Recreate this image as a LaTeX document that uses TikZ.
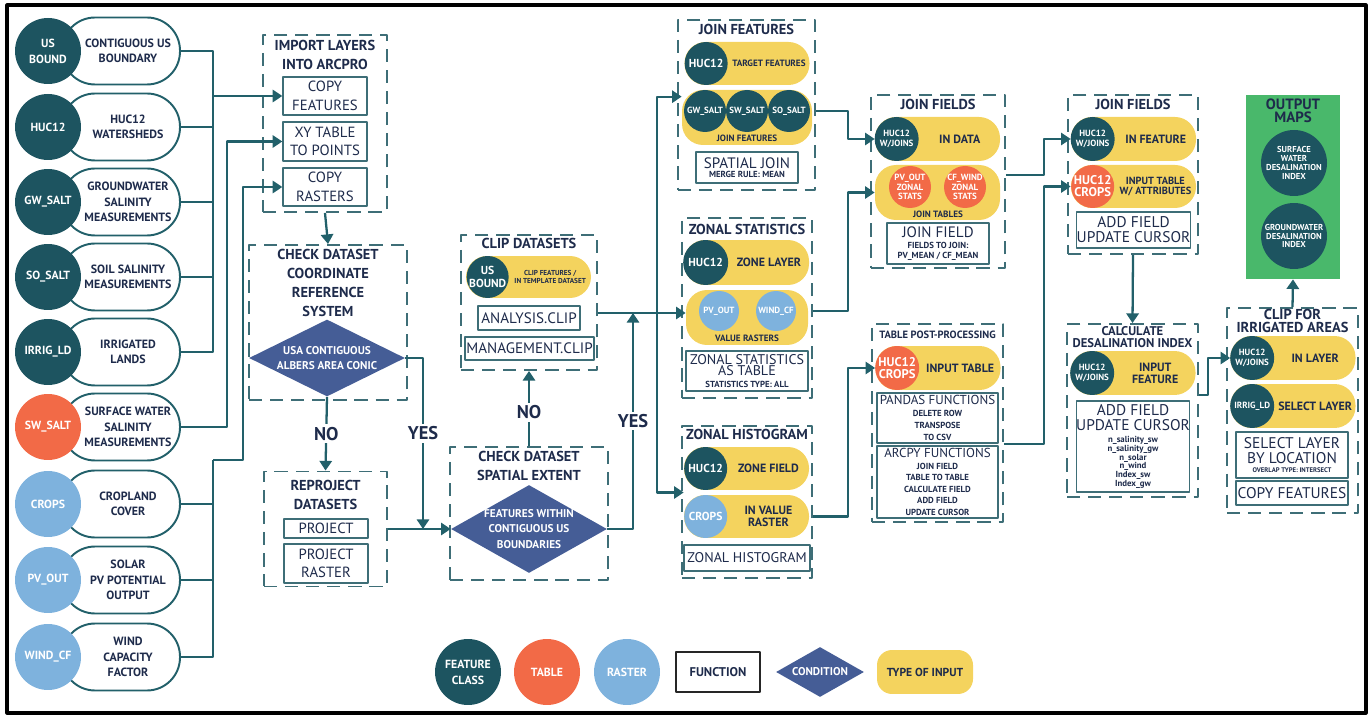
\documentclass[tikz,border=0pt]{standalone}
\usepackage{fontspec}
\setmainfont{PT Sans}
\usepackage{tikz}
\usetikzlibrary{shapes,positioning,calc,arrows.meta}

\definecolor{featcol}{HTML}{1D5460}
\definecolor{tablecol}{HTML}{F26A47}
\definecolor{rastercol}{HTML}{7EB2DD}
\definecolor{inputcol}{HTML}{F4D35E}
\definecolor{condcol}{HTML}{455D96}
\definecolor{outcol}{HTML}{49B86B}
\definecolor{inkcol}{HTML}{1E2B4B}
\definecolor{linecol}{HTML}{22606A}
\definecolor{boxcol}{HTML}{3E6E77}

\newcommand{\subtxt}{\bfseries\fontsize{5}{5}\selectfont}

\newcommand{\source}[5]{
	\node[srcpill] (#1_p) at (121,#2) {};
	\node[bigcirc, fill=#3, label={[ctbig]center:#4}] (#1_c) at (48,#2) {};
	\node[srctext] (#1_t) at (128,#2) {#5};
}

\newcommand{\inpill}[9]{
	\node[ypill, minimum height=#4] (#1) at (#2,#3) {};
	\node[pcirc, fill=#5, minimum size=#4, label={[#6]center:#7}] (#1_c) at ($(#1.west)+(22,0)$) {};
	\node[#8] (#1_t) at ($(#1_c.east)!0.5!(#1.east)$) {#9};
}

\begin{document}
\begin{tikzpicture}[x=0.02cm, y=-0.02cm, >={Triangle[length=5.5pt,width=7pt]}, join=round]
		\tikzstyle{srcpill}=[draw=linecol, line width=1.1pt, fill=white, rounded corners=0.66cm, minimum width=2.36cm, minimum height=1.34cm, inner sep=0];
		\tikzstyle{bigcirc}=[circle, minimum size=1.32cm, inner sep=0];
		\tikzstyle{pcirc}=[circle, inner sep=0];
		\tikzstyle{ctbig}=[text=white, align=center, inner sep=0, font=\bfseries\fontsize{6.7}{9}\selectfont];
		\tikzstyle{ctmid}=[ctbig, font=\bfseries\fontsize{6.6}{7.2}\selectfont];
		\tikzstyle{ctsm}=[ctbig, font=\bfseries\fontsize{5.1}{5.3}\selectfont];
		\tikzstyle{ctcrop}=[ctbig, font=\bfseries\fontsize{7.2}{6.8}\selectfont];
		\tikzstyle{ctout}=[ctbig, font=\bfseries\fontsize{4.9}{5}\selectfont];
		\tikzstyle{srctext}=[text=inkcol, align=center, inner sep=0, font=\bfseries\fontsize{6.8}{8.8}\selectfont];
		\tikzstyle{ypill}=[fill=inputcol, rounded corners=0.42cm, minimum width=2.5cm, inner sep=0];
		\tikzstyle{plbig}=[text=inkcol, align=center, inner sep=0, font=\bfseries\fontsize{6.8}{6.8}\selectfont];
		\tikzstyle{plmid}=[plbig, font=\bfseries\fontsize{5.9}{5.4}\selectfont];
		\tikzstyle{plsm}=[plbig, font=\bfseries\fontsize{5.2}{5.3}\selectfont];
		\tikzstyle{pltiny}=[plbig, font=\bfseries\fontsize{4.1}{4.9}\selectfont];
		\tikzstyle{grp}=[draw=boxcol, line width=1.1pt, dash pattern=on 7.5pt off 4.5pt, inner sep=0];
		\tikzstyle{head}=[text=inkcol, align=center, inner sep=0, font=\bfseries\fontsize{8.2}{10.8}\selectfont];
		\tikzstyle{fn}=[draw=boxcol, line width=0.8pt, fill=white, text=inkcol, align=center, inner sep=0, font=\fontsize{8.4}{10.6}\selectfont];
		\tikzstyle{cond}=[diamond, fill=condcol, inner sep=0];
		\tikzstyle{condtext}=[text=white, align=center, inner sep=0, font=\bfseries\fontsize{6.4}{8.9}\selectfont];
		\tikzstyle{wire}=[draw=linecol, line width=1.3pt];
		\tikzstyle{flow}=[wire, ->];
		\tikzstyle{answer}=[fill=white, text=inkcol, inner sep=1.5pt, font=\bfseries\fontsize{10.5}{12}\selectfont];
		
		\useasboundingbox (0,0) rectangle (1371,715);
		\draw[line width=1.8pt] (7,5) rectangle (1366,713);
		
		% input layers
		\source{usb}{51}{featcol}{US\\BOUND}{CONTIGUOUS US\\BOUNDARY}
		\source{huc}{127}{featcol}{HUC12}{HUC12\\WATERSHEDS}
		\source{gws}{202}{featcol}{GW\_SALT}{GROUNDWATER\\SALINITY\\MEASUREMENTS}
		\source{sos}{277}{featcol}{SO\_SALT}{SOIL SALINITY\\MEASUREMENTS}
		\source{irl}{352}{featcol}{IRRIG\_LD}{IRRIGATED\\LANDS}
		\source{sws}{427}{tablecol}{SW\_SALT}{SURFACE WATER\\SALINITY\\MEASUREMENTS}
		\source{crp}{504}{rastercol}{CROPS}{CROPLAND\\COVER}
		\source{pvo}{580}{rastercol}{PV\_OUT}{SOLAR\\PV POTENTIAL\\OUTPUT}
		\source{wcf}{657}{rastercol}{WIND\_CF}{WIND\\CAPACITY\\FACTOR}
		
		% import
		\node[grp, minimum width=2.48cm, minimum height=3.54cm] (imp) at (325,123.5) {};
		\node[head] (imp_h) at (325,55) {IMPORT LAYERS\\INTO ARCPRO};
		\node[fn, minimum width=1.68cm, minimum height=0.76cm] (cpf) at (325,96) {COPY\\FEATURES};
		\node[fn, minimum width=1.68cm, minimum height=0.78cm] (xyt) at (325,141.5) {XY TABLE\\TO POINTS};
		\node[fn, minimum width=1.68cm, minimum height=0.76cm] (cpr) at (325,187) {COPY\\RASTERS};
		
		% coordinate system check
		\node[grp, minimum width=3.16cm, minimum height=3.10cm] (crs) at (328,322.5) {};
		\node[head] (crs_h) at (328,283) {CHECK DATASET\\COORDINATE\\REFERENCE\\SYSTEM};
		\node[cond, minimum width=3.12cm, minimum height=1.54cm, label={[condtext]center:USA CONTIGUOUS\\ALBERS AREA CONIC}] (crs_d) at (327,358) {};
		
		\node[grp, minimum width=2.46cm, minimum height=2.30cm] (rep) at (325.5,529) {};
		\node[head] (rep_h) at (325.5,495) {REPROJECT\\DATASETS};
		\node[fn, minimum width=1.68cm, minimum height=0.38cm] (prj) at (326,528.5) {PROJECT};
		\node[fn, minimum width=1.68cm, minimum height=0.78cm] (prr) at (326,563.5) {PROJECT\\RASTER};
		
		% spatial extent check
		\node[grp, minimum width=3.16cm, minimum height=2.66cm] (ext) at (529,513.5) {};
		\node[head] (ext_h) at (529,466) {CHECK DATASET\\SPATIAL EXTENT};
		\node[cond, minimum width=3.12cm, minimum height=1.76cm, label={[condtext]center:FEATURES WITHIN\\CONTIGUOUS US\\BOUNDARIES}] (ext_d) at (529,529) {};
		
		\node[grp, minimum width=2.72cm, minimum height=2.70cm] (clp) at (529,302.5) {};
		\node[head] (clp_h) at (529,243) {CLIP DATASETS};
		\inpill{clp_in}{528.5}{277}{0.84cm}{featcol}{ctmid}{US\\BOUND}{pltiny}{CLIP FEATURES /\\IN TEMPLATE DATASET}
		\node[fn, minimum width=2.04cm, minimum height=0.48cm, font=\fontsize{8.6}{10}\selectfont] (acl) at (529,318) {ANALYSIS.CLIP};
		\node[fn, minimum width=2.58cm, minimum height=0.46cm, font=\fontsize{8.6}{10}\selectfont] (mcl) at (529.5,348.5) {MANAGEMENT.CLIP};
		
		% join features
		\node[grp, minimum width=2.74cm, minimum height=3.40cm] (jft) at (746.5,105) {};
		\node[head] (jft_h) at (746.5,29) {JOIN FEATURES};
		\inpill{jft_tg}{747}{63.5}{0.86cm}{featcol}{ctmid}{HUC12}{plsm}{TARGET FEATURES}
		\node[ypill, minimum width=2.6cm, minimum height=1.1cm] (jft_jn) at (747,117.5) {};
		\node[pcirc, fill=featcol, minimum size=0.84cm, label={[ctsm]center:GW\_SALT}] (jft_c1) at (705,111) {};
		\node[pcirc, fill=featcol, minimum size=0.84cm, label={[ctsm]center:SW\_SALT}] (jft_c2) at (747,111) {};
		\node[pcirc, fill=featcol, minimum size=0.84cm, label={[ctsm]center:SO\_SALT}] (jft_c3) at (789,111) {};
		\node[plsm] (jft_t) at (747,138.5) {JOIN FEATURES};
		\node[fn, minimum width=2.04cm, minimum height=0.62cm, font=\fontsize{8.6}{5.2}\selectfont] (sjn) at (747,167.5) {SPATIAL JOIN\\\subtxt MERGE RULE: MEAN};
		
		% zonal statistics
		\node[grp, minimum width=2.60cm, minimum height=3.60cm] (zst) at (747,308) {};
		\node[head] (zst_h) at (747,229) {ZONAL STATISTICS};
		\inpill{zst_zn}{746.5}{262.5}{0.9cm}{featcol}{ctmid}{HUC12}{plbig}{ZONE LAYER}
		\node[ypill, minimum width=2.44cm, minimum height=1.1cm] (zst_vl) at (747,317.5) {};
		\node[pcirc, fill=rastercol, minimum size=0.8cm, label={[ctsm]center:PV\_OUT}] (zst_c1) at (719,311) {};
		\node[pcirc, fill=rastercol, minimum size=0.8cm, label={[ctsm]center:WIND\_CF}] (zst_c2) at (776,311) {};
		\node[plsm] (zst_t) at (747,338.5) {VALUE RASTERS};
		\node[fn, minimum width=2.44cm, minimum height=0.80cm, font=\fontsize{8}{6.6}\selectfont] (zsb) at (747,371) {ZONAL STATISTICS\\AS TABLE\\\subtxt STATISTICS TYPE: ALL};
		
		% zonal histogram
		\node[grp, minimum width=2.60cm, minimum height=3.04cm] (zhs) at (747,502) {};
		\node[head] (zhs_h) at (747,434) {ZONAL HISTOGRAM};
		\inpill{zhs_zn}{746.5}{468.5}{0.86cm}{featcol}{ctmid}{HUC12}{plbig}{ZONE FIELD}
		\inpill{zhs_vl}{746.5}{516.5}{0.86cm}{rastercol}{ctmid}{CROPS}{plbig}{IN VALUE\\RASTER}
		\node[fn, minimum width=2.52cm, minimum height=0.52cm, font=\fontsize{8}{10}\selectfont] (zhb) at (747,558) {ZONAL HISTOGRAM};
		
		% join fields
		\node[grp, minimum width=2.68cm, minimum height=3.46cm] (jf1) at (938,181.5) {};
		\node[head] (jf1_h) at (938,104) {JOIN FIELDS};
		\inpill{jf1_in}{937.5}{139}{0.88cm}{featcol}{ctsm}{HUC12\\W/JOINS}{plbig}{IN DATA}
		\node[ypill, minimum width=2.5cm, minimum height=1.1cm] (jf1_tb) at (937.5,192.5) {};
		\node[pcirc, fill=tablecol, minimum size=0.84cm, label={[ctsm]center:PV\_OUT\\ZONAL\\STATS}] (jf1_c1) at (910,187) {};
		\node[pcirc, fill=tablecol, minimum size=0.84cm, label={[ctsm]center:CF\_WIND\\ZONAL\\STATS}] (jf1_c2) at (965,187) {};
		\node[plsm] (jf1_t) at (938,214) {JOIN TABLES};
		\node[fn, minimum width=2.04cm, minimum height=0.82cm, font=\fontsize{8.6}{5.4}\selectfont] (jfd) at (938,243.5) {JOIN FIELD\\[1pt]\subtxt FIELDS TO JOIN:\\\subtxt PV\_MEAN / CF\_MEAN};
		
		\node[grp, minimum width=2.60cm, minimum height=3.18cm] (jf2) at (1133,174.5) {};
		\node[head] (jf2_h) at (1133,104) {JOIN FIELDS};
		\inpill{jf2_in}{1133.5}{139}{0.88cm}{featcol}{ctsm}{HUC12\\W/JOINS}{plbig}{IN FEATURE}
		\inpill{jf2_tb}{1133.5}{186.5}{0.86cm}{tablecol}{ctcrop}{HUC12\\CROPS}{plmid}{INPUT TABLE\\W/ ATTRIBUTES}
		\node[fn, minimum width=2.26cm, minimum height=0.72cm, font=\fontsize{8.8}{8.5}\selectfont] (auc) at (1133.5,230) {ADD FIELD\\UPDATE CURSOR};
		
		% post-processing
		\node[grp, minimum width=2.62cm, minimum height=3.96cm] (tpp) at (937.5,423) {};
		\node[head, font=\bfseries\fontsize{6}{6}\selectfont] (tpp_h) at (937.5,335) {TABLE POST-PROCESSING};
		\inpill{tpp_in}{938}{368}{0.88cm}{tablecol}{ctcrop}{HUC12\\CROPS}{plbig}{INPUT TABLE}
		\node[fn, minimum width=2.42cm, minimum height=1.0cm, font=\fontsize{7.4}{6.8}\selectfont] (pdf) at (937.5,418) {PANDAS FUNCTIONS\\\subtxt DELETE ROW\\\subtxt TRANSPOSE\\\subtxt TO CSV};
		\node[fn, minimum width=2.42cm, minimum height=1.44cm, font=\fontsize{7.4}{6.6}\selectfont] (apf) at (937.5,482) {ARCPY FUNCTIONS\\\subtxt JOIN FIELD\\\subtxt TABLE TO TABLE\\\subtxt CALCULATE FIELD\\\subtxt ADD FIELD\\\subtxt UPDATE CURSOR};
		
		% index
		\node[grp, minimum width=2.62cm, minimum height=3.46cm] (cal) at (1132.5,410.5) {};
		\node[head, font=\bfseries\fontsize{7.2}{6.8}\selectfont] (cal_h) at (1132.5,337) {CALCULATE\\DESALINATION INDEX};
		\inpill{cal_in}{1133}{373}{0.88cm}{featcol}{ctsm}{HUC12\\W/JOINS}{plbig}{INPUT\\FEATURE}
		\node[fn, minimum width=2.24cm, minimum height=1.82cm, font=\fontsize{8.8}{5}\selectfont] (cab) at (1133,446.5) {ADD FIELD\\[1.3pt]UPDATE CURSOR\\[1.8pt]\subtxt n\_salinity\_sw\\\subtxt n\_salinity\_gw\\\subtxt n\_solar\\\subtxt n\_wind\\\subtxt Index\_sw\\\subtxt Index\_gw};
		
		% irrigated clip
		\node[grp, minimum width=2.62cm, minimum height=4.10cm] (irr) at (1292.5,410.5) {};
		\node[head, font=\bfseries\fontsize{8.2}{7}\selectfont] (irr_h) at (1292.5,321) {CLIP FOR\\IRRIGATED AREAS};
		\inpill{irr_in}{1293}{358}{0.88cm}{featcol}{ctsm}{HUC12\\W/JOINS}{plbig}{IN LAYER}
		\inpill{irr_sl}{1293}{406}{0.88cm}{featcol}{ctsm}{IRRIG\_LD}{plbig}{SELECT LAYER}
		\node[fn, minimum width=2.24cm, minimum height=0.92cm, font=\fontsize{8.8}{8.3}\selectfont] (slb) at (1292,455) {SELECT LAYER\\BY LOCATION\\[-3pt]\bfseries\fontsize{3.8}{4}\selectfont OVERLAP TYPE: INTERSECT};
		\node[fn, minimum width=2.24cm, minimum height=0.48cm, font=\fontsize{8.8}{10}\selectfont] (cpf2) at (1292,493) {COPY FEATURES};
		
		% outputs
		\node[fill=outcol, minimum width=1.88cm, minimum height=3.68cm, inner sep=0] (out) at (1293,187) {};
		\node[head, font=\bfseries\fontsize{8.5}{7.6}\selectfont] (out_h) at (1293,111) {OUTPUT\\MAPS};
		\node[bigcirc, fill=featcol, label={[ctout]center:SURFACE\\WATER\\DESALINATION\\INDEX}] (out_sw) at (1294,163) {};
		\node[bigcirc, fill=featcol, label={[ctout]center:GROUNDWATER\\DESALINATION\\INDEX}] (out_gw) at (1294,236) {};
		
		% legend
		\node[bigcirc, fill=featcol, label={[ctbig]center:FEATURE\\CLASS}] (lg_fc) at (468,672) {};
		\node[bigcirc, fill=tablecol, label={[ctbig]center:TABLE}] (lg_tb) at (547,672) {};
		\node[bigcirc, fill=rastercol, label={[ctbig]center:RASTER}] (lg_rs) at (627,672) {};
		\node[fn, draw=black!85, line width=1pt, minimum width=1.68cm, minimum height=0.80cm, font=\bfseries\fontsize{7.2}{8}\selectfont] (lg_fn) at (718,672) {FUNCTION};
		\node[cond, minimum width=1.76cm, minimum height=1.0cm, label={[condtext]center:CONDITION}] (lg_cd) at (820,672) {};
		\node[fill=inputcol, rounded corners=0.3cm, minimum width=1.92cm, minimum height=0.88cm, text=inkcol, font=\bfseries\fontsize{6.6}{7}\selectfont] (lg_in) at (925,672) {TYPE OF INPUT};
		
		% connectors
		\coordinate (bus1) at (213,96);
		\foreach \s in {usb,huc,gws,sos,irl}
			\draw[wire] (\s_p.east) -| (bus1);
		\draw[flow] (bus1) -- (cpf.west);
		\draw[flow] (sws_p.east) -| ($(xyt.west)+(-55,0)$) -- (xyt.west);
		\coordinate (bus3) at (213,460);
		\foreach \s in {crp,pvo,wcf}
			\draw[wire] (\s_p.east) -| (bus3);
		\draw[flow] (bus3) -- ++(30,0) |- (cpr.west);
		
		\draw[flow] (imp.south) -- (crs.north);
		\draw[flow] (crs_d.south) -- node[answer]{NO} (rep.north);
		\coordinate (mrg) at (423,529);
		\draw[flow] (crs_d.east) -| node[answer, pos=0.72]{YES} (mrg);
		\draw[flow] (rep.east) -- (ext_d.west);
		
		\draw[flow] (ext.north) -- node[answer, pos=0.45]{NO} (clp.south);
		\coordinate (fork) at (657,313);
		\coordinate (mrg2) at (633,313);
		\draw[flow] (ext_d.east) -| node[answer, pos=0.75]{YES} (mrg2);
		\draw[flow] (clp.east |- fork) -- (zst_vl.west |- fork);
		\draw[flow] (fork) |- ($(jft_jn.north west)+(0,7)$);
		\draw[flow] (fork) |- ($(zhs_zn.south west)!0.5!(zhs_vl.north west)$);
		
		\draw[flow] (jft.east |- jft_c2) -- ++(32,0) |- (jf1_in.west);
		\draw[flow] (zst.east |- zst_c1) -- ++(35,0) |- (jf1_tb.west);
		\draw[flow] (zhs.east |- zhs_vl) -- ++(35,0) |- (tpp_in.west);
		\draw[flow] ($(jf1.east |- jf1_tb.north)+(0,10)$) -- ++(38,0) |- (jf2_in.west);
		\draw[flow] (tpp.east |- pdf.south) -- ++(40,0) |- (jf2_tb.west);
		\draw[flow] (jf2.south) -- (cal.north);
		\draw[flow] (cal.east |- cal_in.south) -- ++(9,0) |- (irr_in.west);
		\draw[flow] (irr.north) -- (out.south);
	\end{tikzpicture}
\end{document}
